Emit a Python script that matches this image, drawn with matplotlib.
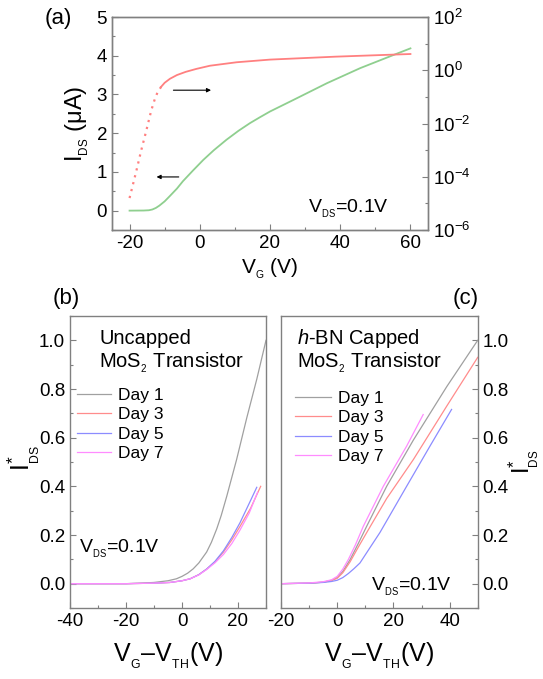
import numpy as np
import matplotlib
matplotlib.use("Agg")
import matplotlib.pyplot as plt
from matplotlib.ticker import MultipleLocator, FixedLocator, NullFormatter, FormatStrFormatter

plt.rcParams['font.family'] = ['Liberation Sans', 'DejaVu Sans']
plt.rcParams['mathtext.fontset'] = 'custom'
plt.rcParams['mathtext.rm'] = 'Liberation Sans'
plt.rcParams['mathtext.it'] = 'Liberation Sans:italic'
plt.rcParams['mathtext.default'] = 'regular'
plt.rcParams['axes.unicode_minus'] = False

# ---------------- Data ----------------
# Panel (a): linear I_DS (uA) vs V_G (left axis, green)
a_lin_vg = [-20, -16, -14.5, -13.5, -12.5, -11.5, -10, -8.6, -6.5, -4.8, -2, 1.0, 4, 7.6, 11,
            14.3, 17.1, 20, 26.7, 36.2, 45.7, 55.2, 60]
a_lin_i = [0, 0.003, 0.01, 0.03, 0.07, 0.13, 0.24, 0.37, 0.57, 0.76, 1.03, 1.31, 1.56, 1.83, 2.06,
           2.26, 2.41, 2.56, 2.86, 3.29, 3.68, 4.02, 4.19]
# Panel (a): log I_DS vs V_G (right axis, red); log10 of current
a_log_vg = [-20, -18.1, -16.7, -15.2, -13.8, -12.8, -12.0, -11.0, -10.0, -8.5, -6.5, -4.0, -1.0,
            2.9, 10.5, 20, 38.6, 60]
a_log_exp = [-4.8, -3.8, -3.02, -2.25, -1.5, -1.08, -0.82, -0.62, -0.47, -0.32, -0.18, -0.06, 0.05,
             0.17, 0.30, 0.40, 0.51, 0.61]

# Panel (b): uncapped, normalized I_DS*
b_d1_v = [-40, -20, -15, -10, -5, -2, 0, 2, 4, 6, 8.8, 10.5, 12.4, 14, 16, 19.5, 23.1, 26.7, 30]
b_d1_i = [0, 0, 0.002, 0.005, 0.012, 0.02, 0.03, 0.043, 0.061, 0.085, 0.13, 0.17, 0.225, 0.28,
          0.36, 0.51, 0.68, 0.84, 1.0]
b_d3_v = [-40, -20, -10, -4.3, 0, 2.9, 6, 8.8, 11.8, 14.8, 17.8, 20.7, 24.5, 28.1]
b_d3_i = [0, 0, 0.002, 0.005, 0.012, 0.02, 0.037, 0.06, 0.09, 0.13, 0.18, 0.235, 0.31, 0.40]
b_d5_v = [-40, -20, -10, -4.3, 0, 2.9, 6, 8.8, 11.8, 14.8, 17.8, 20.7, 24.0, 26.7]
b_d5_i = [0, 0, 0.002, 0.005, 0.012, 0.02, 0.037, 0.06, 0.092, 0.135, 0.19, 0.25, 0.33, 0.396]
b_d7_v = [-40, -20, -10, -4.3, 0, 2.9, 6, 8.8, 11.8, 14.8, 17.8, 20.7, 24.0, 27.0]
b_d7_i = [0, 0, 0.002, 0.005, 0.012, 0.02, 0.036, 0.058, 0.086, 0.12, 0.165, 0.22, 0.29, 0.376]

# Panel (c): h-BN capped, normalized I_DS*
c_d1_v = [-20, -10, -5, -2, 0, 2, 4.6, 7.5, 10.5, 17.6, 27.1, 39, 50]
c_d1_i = [0, 0.002, 0.006, 0.014, 0.025, 0.05, 0.099, 0.165, 0.236, 0.40, 0.59, 0.81, 1.0]
c_d3_v = [-20, -10, -5, -2, 0, 2, 4.6, 7.5, 10.5, 17.6, 27.1, 39, 50]
c_d3_i = [0, 0.002, 0.006, 0.013, 0.022, 0.045, 0.09, 0.15, 0.21, 0.35, 0.51, 0.73, 0.93]
c_d5_v = [-20, -10, -5, -2, 0, 2, 4, 6, 8.1, 11.5, 15.2, 24.7, 33, 40.7]
c_d5_i = [0, 0.002, 0.005, 0.009, 0.014, 0.025, 0.042, 0.062, 0.085, 0.145, 0.21, 0.40, 0.565, 0.716]
c_d7_v = [-20, -10, -5, -2, 0, 2, 4, 6.5, 9.3, 16.4, 24.7, 30.6]
c_d7_i = [0, 0.003, 0.008, 0.016, 0.03, 0.06, 0.10, 0.16, 0.236, 0.40, 0.565, 0.695]

day_labels = ['Day 1', 'Day 3', 'Day 5', 'Day 7']
day_colors = ['#a0a0a0', '#ff8c8c', '#8c8cff', '#ff8cff']

# ---------------- Figure ----------------
W, H = 543, 679
fig = plt.figure(figsize=(W / 100, H / 100), dpi=100)

def box(l, t, r, b):
    return [l / W, 1 - b / H, (r - l) / W, (b - t) / H]

SP = '#808080'
TICK_FS = 13.5
NOTE_FS = 14

def style(ax):
    for s in ax.spines.values():
        s.set_color(SP)
        s.set_linewidth(1.0)
    ax.tick_params(which='both', direction='in', colors=SP, labelcolor='black',
                   labelsize=TICK_FS, width=0.8)
    ax.tick_params(which='major', length=4)
    ax.tick_params(which='minor', length=2.5)

VDS = 'V$_{{}_{DS}}$=0.1V'
XL = 'V$_{{}_{G}}$\u2013V$_{{}_{TH}}$(V)'
YL = 'I$^{*}_{{}_{DS}}$'

# ---- Panel (a)
axa = fig.add_axes(box(112, 17, 428, 230))
style(axa)
axa.plot(a_lin_vg, a_lin_i, color='#8fcf8f', lw=1.3)
axa.set_xlim(-25, 65)
axa.set_ylim(-0.5, 5)
axa.xaxis.set_major_locator(MultipleLocator(20))
axa.xaxis.set_minor_locator(MultipleLocator(10))
axa.yaxis.set_major_locator(MultipleLocator(1))
axa.yaxis.set_minor_locator(MultipleLocator(0.5))
axa.tick_params(axis='y', which='both', right=False)
axa.set_xlabel('V$_{{}_{G}}$ (V)', fontsize=15, labelpad=3)
axa.set_ylabel('I$_{{}_{DS}}$ (\u03bcA)', fontsize=17, labelpad=4)

axr = axa.twinx()
style(axr)
red_vals = 10 ** np.array(a_log_exp)
k = a_log_vg.index(-11.0)
axr.plot(a_log_vg[:k + 1], red_vals[:k + 1], color='#ff8080', lw=1.6,
         linestyle=(0, (1, 2.2)))
axr.plot(a_log_vg[k:], red_vals[k:], color='#ff8080', lw=1.3)
axr.set_yscale('log')
axr.set_ylim(1e-6, 1e2)
axr.yaxis.set_major_locator(FixedLocator([1e-6, 1e-4, 1e-2, 1e0, 1e2]))
axr.yaxis.set_minor_locator(FixedLocator([10.0 ** e for e in range(-5, 2, 2)]))
axr.yaxis.set_minor_formatter(NullFormatter())
axr.set_yticklabels([r'10$^{-6}$', r'10$^{-4}$', r'10$^{-2}$', r'10$^{0}$', r'10$^{2}$'])

axa.annotate('', xy=(4, 3.11), xytext=(-8.3, 3.11),
             arrowprops=dict(arrowstyle='-|>', color='black', lw=0.8, mutation_scale=6))
axa.annotate('', xy=(-13.1, 0.87), xytext=(-5.2, 0.87),
             arrowprops=dict(arrowstyle='-|>', color='black', lw=0.8, mutation_scale=6))
axa.text(0.62, 0.08, VDS, transform=axa.transAxes, fontsize=NOTE_FS)
fig.text(45 / W, 1 - 24 / H, '(a)', fontsize=16)

# ---- Panel (b)
axb = fig.add_axes(box(70, 316, 266, 608))
style(axb)
for v, i, c, lab in zip([b_d1_v, b_d3_v, b_d5_v, b_d7_v], [b_d1_i, b_d3_i, b_d5_i, b_d7_i],
                        day_colors, day_labels):
    axb.plot(v, i, color=c, lw=0.9, label=lab)
axb.set_xlim(-40, 30)
axb.set_ylim(-0.1, 1.1)
axb.xaxis.set_major_locator(MultipleLocator(20))
axb.xaxis.set_minor_locator(MultipleLocator(10))
axb.yaxis.set_major_locator(MultipleLocator(0.2))
axb.yaxis.set_minor_locator(MultipleLocator(0.1))
axb.yaxis.set_major_formatter(FormatStrFormatter('%.1f'))
axb.set_xlabel(XL, fontsize=18, labelpad=8)
fig.text(24 / W, 1 - 458 / H, YL, fontsize=18, rotation=90, ha='center', va='center')
axb.legend(loc='upper left', bbox_to_anchor=(0.034, 0.755), frameon=False, fontsize=12.5,
           handlelength=2.0, handletextpad=0.4, labelspacing=0.25, borderpad=0, borderaxespad=0)
axb.text(0.15, 0.905, 'Uncapped', transform=axb.transAxes, fontsize=14.5)
axb.text(0.15, 0.825, 'MoS$_{{}_{2}}$ Transistor', transform=axb.transAxes, fontsize=14.5)
axb.text(0.045, 0.19, VDS, transform=axb.transAxes, fontsize=NOTE_FS)
fig.text(53 / W, 1 - 304 / H, '(b)', fontsize=16)

# ---- Panel (c)
axc = fig.add_axes(box(281, 316, 477.7, 608))
style(axc)
for v, i, c, lab in zip([c_d1_v, c_d3_v, c_d5_v, c_d7_v], [c_d1_i, c_d3_i, c_d5_i, c_d7_i],
                        day_colors, day_labels):
    axc.plot(v, i, color=c, lw=0.9, label=lab)
axc.set_xlim(-20, 50)
axc.set_ylim(-0.1, 1.1)
axc.xaxis.set_major_locator(MultipleLocator(20))
axc.xaxis.set_minor_locator(MultipleLocator(10))
axc.yaxis.set_major_locator(MultipleLocator(0.2))
axc.yaxis.set_minor_locator(MultipleLocator(0.1))
axc.yaxis.set_major_formatter(FormatStrFormatter('%.1f'))
axc.yaxis.tick_right()
axc.tick_params(axis='y', which='both', left=False, right=True)
axc.set_xlabel(XL, fontsize=18, labelpad=8)
fig.text(524 / W, 1 - 462 / H, YL, fontsize=17, rotation=90, ha='center', va='center')
axc.legend(loc='upper left', bbox_to_anchor=(0.071, 0.745), frameon=False, fontsize=12.5,
           handlelength=2.1, handletextpad=0.4, labelspacing=0.25, borderpad=0, borderaxespad=0)
axc.text(0.08, 0.905, '$\\mathit{h}$-BN Capped', transform=axc.transAxes, fontsize=14.5)
axc.text(0.08, 0.825, 'MoS$_{{}_{2}}$ Transistor', transform=axc.transAxes, fontsize=14.5)
axc.text(0.46, 0.06, VDS, transform=axc.transAxes, fontsize=NOTE_FS)
fig.text(453 / W, 1 - 304 / H, '(c)', fontsize=16)

fig.savefig('out.png', dpi=100)
